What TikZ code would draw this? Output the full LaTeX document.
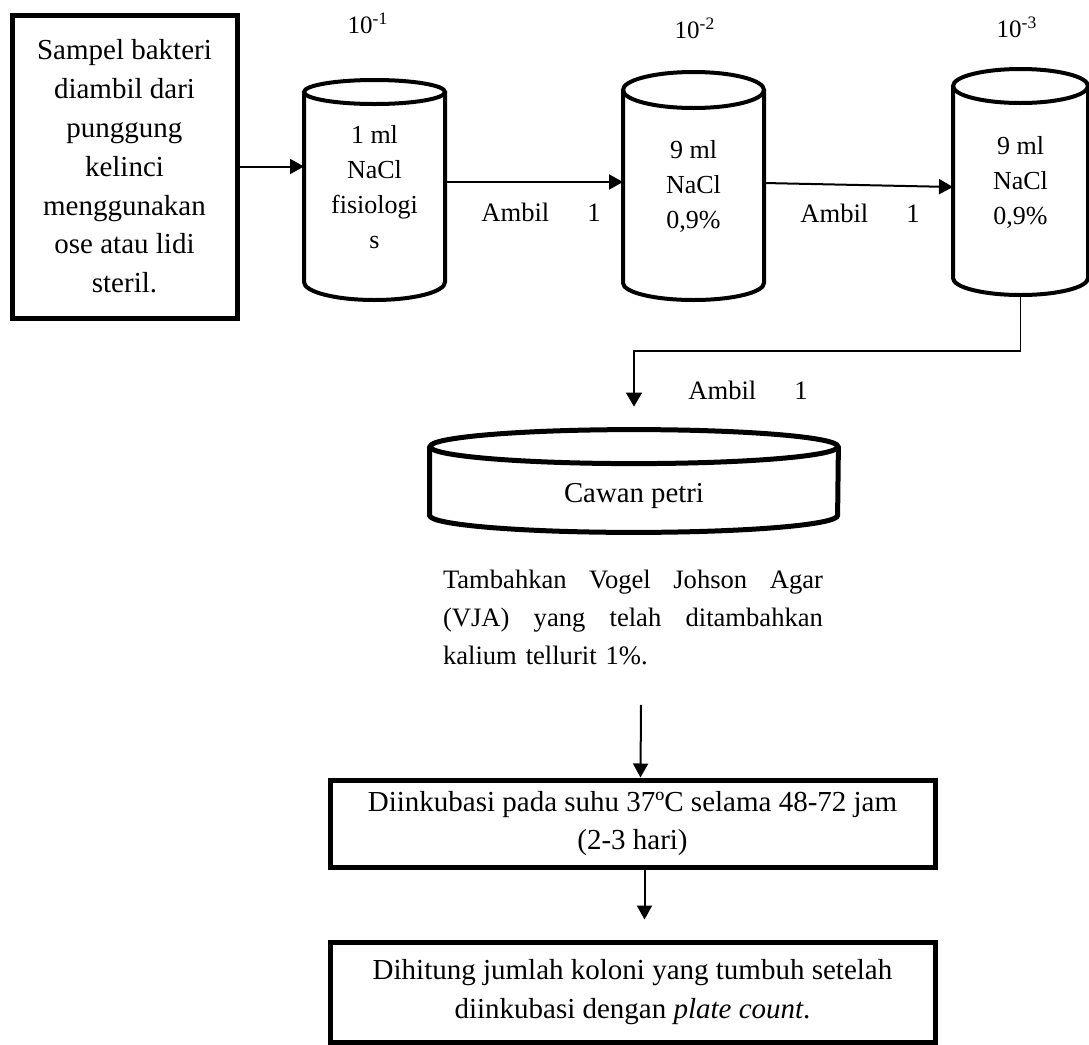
\documentclass[tikz,border=0pt]{standalone}
\usepackage{fontspec}
\setmainfont{Liberation Serif}
\usetikzlibrary{arrows.meta,calc,positioning}

\begin{document}
\begin{tikzpicture}[
  x=0.5pt, y=-0.5pt,
  box/.style={
    draw=black,
    line width=2.5pt,
    inner sep=0pt,
    align=center,
    font=\fontsize{14.5}{19.4}\selectfont
  },
  tube/.style={
    inner sep=0pt,
    outer sep=0pt,
    minimum width=#1,
    align=center,
    font=\fontsize{13}{17.5}\selectfont
  },
  wall/.style={line width=2pt},
  txt/.style={inner sep=0pt, font=\fontsize{13.3}{16}\selectfont},
  dil/.style={inner sep=0pt, font=\fontsize{12.5}{15}\selectfont},
  link/.style={line width=1pt, -{Triangle[length=7pt,width=7.5pt]}}
]
\useasboundingbox (0,0) rectangle (1089,1045);

% -------- Sample --------
\node[box, minimum width=112.5pt, minimum height=151.5pt] (sampel) at (124.5,166.5)
{Sampel bakteri\\diambil dari\\punggung\\kelinci\\menggunakan\\ose atau lidi\\steril.};

% -------- Dilution tubes --------
\node[tube=70.5pt, minimum height=95pt] (tube1) at (374.5,187)
{1 ml\\NaCl\\fisiologi\\s};
\draw[wall] (tube1.north) ellipse [x radius=70.5, y radius=12];
\draw[wall] (tube1.north west) -- (tube1.south west)
  arc [start angle=180, end angle=0, x radius=70.5, y radius=18] -- (tube1.north east);

\node[tube=70.5pt, minimum height=96.5pt] (tube2) at (693.5,186.5)
{9 ml\\NaCl\\0,9\%};
\draw[wall] (tube2.north) ellipse [x radius=70.5, y radius=18];
\draw[wall] (tube2.north west) -- (tube2.south west)
  arc [start angle=180, end angle=0, x radius=70.5, y radius=17] -- (tube2.north east);

\node[tube=67.5pt, minimum height=96pt] (tube3) at (1020.5,182)
{9 ml\\NaCl\\0,9\%};
\draw[wall] (tube3.north) ellipse [x radius=67.5, y radius=17];
\draw[wall] (tube3.north west) -- (tube3.south west)
  arc [start angle=180, end angle=0, x radius=67.5, y radius=17] -- (tube3.north east);

\node[dil] (d1) at (368,23) {10\textsuperscript{-1}};
\node[dil] (d2) at (695,28) {10\textsuperscript{-2}};
\node[dil] (d3) at (1017,27) {10\textsuperscript{-3}};

% -------- Transfers --------
\draw[link] (sampel.east) -- (sampel.east -| tube1.west);
\coordinate (s1) at ([yshift=2.5pt]tube1.east);
\draw[link] (s1) -- (s1 -| tube2.west);
\draw[link] ([yshift=1.75pt]tube2.east) -- ([yshift=-2.5pt]tube3.west);

\node[txt] (amb1) at (541,212) {Ambil\hspace{19pt}1};
\node[txt] (amb2) at (860,213) {Ambil\hspace{19pt}1};

% -------- Petri dish --------
\node[inner sep=0pt, minimum width=204pt, minimum height=34pt] (dish) at (634,481) {};
\draw[line width=2.5pt] (dish.north) ellipse [x radius=204, y radius=17];
\draw[line width=2.5pt] (dish.north west) -- (dish.south west)
  arc [start angle=180, end angle=0, x radius=204, y radius=17] -- (dish.north east);
\node[inner sep=0pt, font=\fontsize{14.4}{17}\selectfont] (dishlbl) at ([yshift=-7.5pt]dish.center) {Cawan petri};

\draw[line width=0.75pt, -{Triangle[length=7pt,width=8pt]}, shorten >=20pt]
  ([yshift=-8.5pt]tube3.south) -- ++(0,56) -| (dish.north);
\node[txt] (amb3) at (748,390) {Ambil\hspace{19pt}1};

% -------- Medium --------
\node[inner sep=0pt, text width=190pt, align=left, font=\fontsize{13.3}{19}\selectfont] (vja) at (633,617)
{Tambahkan\hfill Vogel\hfill Johson\hfill Agar\\
(VJA)\hfill yang\hfill telah\hfill ditambahkan\\
kalium tellurit 1\%.};

% -------- Incubation and count --------
\node[box, minimum width=302.5pt, minimum height=43.5pt, font=\fontsize{14.5}{19}\selectfont] (incub) at (632.5,823.5)
{Diinkubasi pada suhu 37ºC selama 48-72 jam\\(2-3 hari)};

\node[box, minimum width=302.5pt, minimum height=50pt] (count) at (632.5,992)
{Dihitung jumlah koloni yang tumbuh setelah\\diinkubasi dengan \textit{plate count}.};

\draw[link] ([xshift=4pt,yshift=-20pt]vja.south) -- ([xshift=4pt]incub.north);
\draw[link, shorten >=10pt] ([xshift=6pt]incub.south) -- ([xshift=6pt]count.north);

\end{tikzpicture}
\end{document}
